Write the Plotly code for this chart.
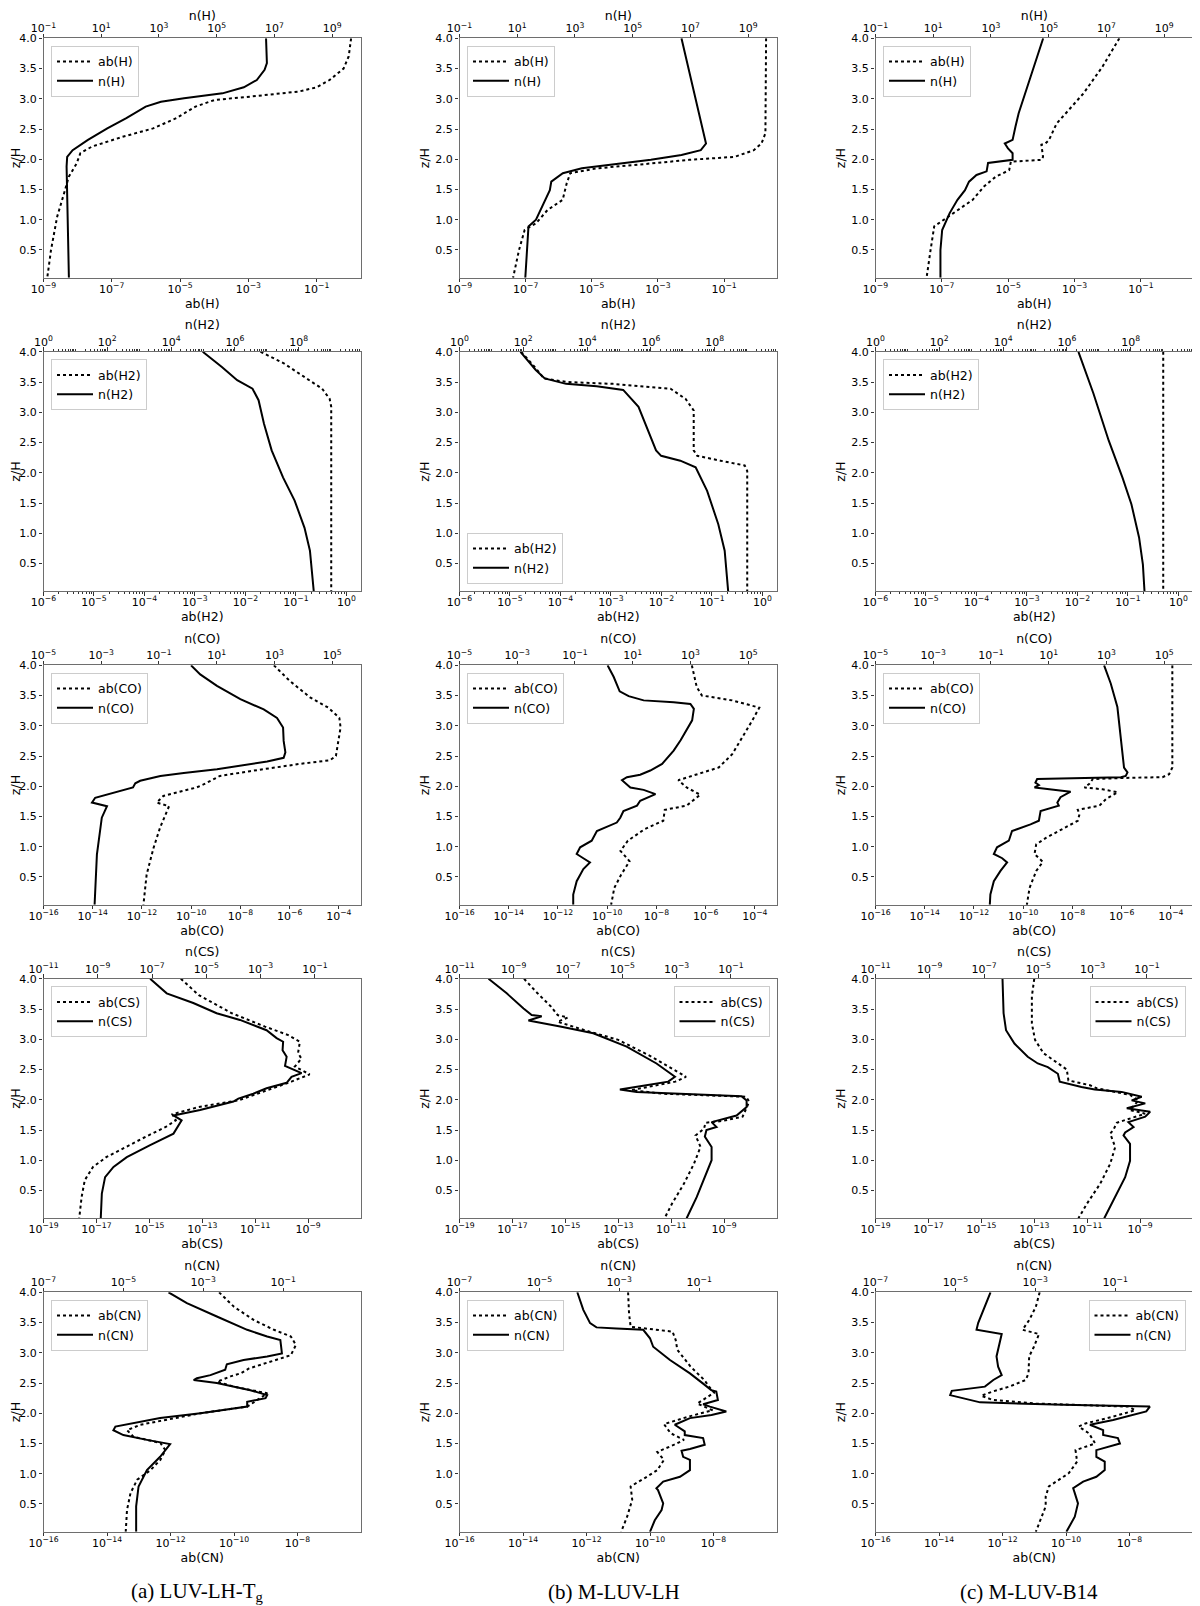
import plotly.graph_objects as go

# ---- H ----
H_TG_AB_Z = [4.0, 3.70, 3.50, 3.31, 3.19, 3.12, 3.04, 2.98, 2.87, 2.68, 2.51, 2.37, 2.21, 2.10, 1.93, 1.71, 1.49, 1.05, 0.50, 0.04]
H_TG_AB = [0.01, -0.06, -0.21, -0.62, -1.0, -1.52, -2.87, -3.99, -4.55, -5.11, -5.79, -6.69, -7.58, -7.92, -8.03, -8.26, -8.37, -8.6, -8.78, -8.89]
H_TG_N_Z = [4.0, 3.59, 3.48, 3.31, 3.19, 3.09, 3.01, 2.95, 2.87, 2.68, 2.51, 2.32, 2.15, 2.04, 1.88, 1.33, 0.04]
H_TG_N = [6.71, 6.74, 6.66, 6.39, 5.94, 5.2, 3.87, 3.07, 2.54, 1.87, 1.21, 0.54, 0.01, -0.18, -0.2, -0.18, -0.12]

H_LH_AB_Z = [4.0, 2.43, 2.26, 2.15, 2.04, 1.99, 1.93, 1.85, 1.77, 1.60, 1.33, 1.16, 0.94, 0.83, 0.50, 0.04]
H_LH_AB = [0.27, 0.25, 0.13, -0.1, -0.68, -2.06, -3.22, -4.84, -5.65, -5.76, -5.88, -6.34, -6.69, -7.03, -7.2, -7.38]
H_LH_N_Z = [4.0, 2.32, 2.26, 2.15, 2.07, 1.99, 1.91, 1.85, 1.77, 1.63, 1.49, 1.33, 1.16, 1.0, 0.89, 0.50, 0.04]
H_LH_N = [6.69, 7.49, 7.54, 7.36, 6.69, 5.63, 4.3, 3.24, 2.58, 2.18, 2.13, 1.97, 1.79, 1.65, 1.39, 1.33, 1.28]

H_B14_AB_Z = [4.0, 3.53, 3.09, 2.81, 2.59, 2.32, 2.26, 2.24, 2.04, 1.99, 1.96, 1.82, 1.71, 1.55, 1.33, 1.11, 0.89, 0.50, 0.04]
H_B14_AB = [-1.65, -2.16, -2.73, -3.19, -3.54, -3.77, -3.88, -4.0, -3.95, -4.0, -4.92, -4.97, -5.38, -5.73, -6.07, -6.65, -7.23, -7.34, -7.46]
H_B14_N_Z = [4.0, 3.53, 3.09, 2.76, 2.54, 2.43, 2.32, 2.26, 2.18, 2.10, 1.99, 1.94, 1.80, 1.74, 1.63, 1.49, 1.33, 1.11, 0.83, 0.50, 0.04]
H_B14_N = [4.81, 4.49, 4.17, 3.96, 3.85, 3.8, 3.75, 3.48, 3.59, 3.75, 3.75, 2.9, 2.85, 2.5, 2.24, 2.1, 1.84, 1.57, 1.31, 1.25, 1.25]

# ---- H2 ----
H2_TG_AB_Z = [4.0, 3.81, 3.56, 3.39, 3.22, 3.09, 0.04]
H2_TG_AB = [-1.70, -1.24, -0.79, -0.48, -0.33, -0.30, -0.30]
H2_TG_N_Z = [4.0, 3.75, 3.53, 3.39, 3.20, 2.81, 2.37, 1.92, 1.54, 1.09, 0.71, 0.04]
H2_TG_N = [4.99, 5.59, 6.07, 6.55, 6.74, 6.91, 7.15, 7.51, 7.87, 8.18, 8.35, 8.47]

H2_LH_AB_Z = [4.0, 3.72, 3.56, 3.50, 3.47, 3.39, 3.22, 3.03, 2.37, 2.28, 2.20, 2.12, 2.03, 0.04]
H2_LH_AB = [-4.78, -4.48, -4.33, -3.87, -2.96, -1.82, -1.52, -1.36, -1.36, -1.29, -0.83, -0.35, -0.30, -0.30]
H2_LH_N_Z = [4.0, 3.70, 3.56, 3.47, 3.43, 3.37, 3.09, 2.70, 2.37, 2.28, 2.20, 2.09, 1.70, 1.15, 0.71, 0.04]
H2_LH_N = [1.91, 2.39, 2.67, 3.34, 4.30, 5.13, 5.61, 5.92, 6.16, 6.32, 6.92, 7.40, 7.76, 8.11, 8.31, 8.42]

H2_B14_AB_Z = [4.0, 0.04]
H2_B14_AB = [-0.30, -0.30]
H2_B14_N_Z = [4.0, 3.31, 2.53, 1.92, 1.48, 0.93, 0.48, 0.04]
H2_B14_N = [6.36, 6.83, 7.31, 7.74, 8.02, 8.26, 8.38, 8.43]

# ---- CO ----
CO_TG_AB_Z = [4.0, 3.74, 3.47, 3.30, 3.13, 2.97, 2.75, 2.50, 2.43, 2.37, 2.25, 2.17, 2.03, 1.98, 1.84, 1.73, 1.67, 1.32, 0.98, 0.54, 0.04]
CO_TG_AB = [-6.64, -5.99, -5.17, -4.43, -3.98, -3.93, -4.02, -4.12, -4.36, -5.58, -7.61, -8.83, -9.50, -9.78, -11.13, -11.40, -10.90, -11.26, -11.53, -11.81, -11.94]
CO_TG_N_Z = [4.0, 3.85, 3.66, 3.44, 3.27, 3.13, 2.97, 2.75, 2.56, 2.47, 2.41, 2.28, 2.22, 2.17, 2.09, 2.05, 1.98, 1.87, 1.81, 1.73, 1.67, 1.48, 0.87, 0.04]
CO_TG_N = [0.11, 0.43, 1.01, 1.82, 2.63, 3.09, 3.30, 3.32, 3.38, 3.32, 2.75, 1.01, -0.14, -0.95, -1.65, -1.82, -1.90, -2.80, -3.21, -3.32, -2.80, -2.98, -3.15, -3.23]

CO_LH_AB_Z = [4.0, 3.64, 3.50, 3.42, 3.30, 3.09, 2.81, 2.53, 2.31, 2.20, 2.10, 1.98, 1.86, 1.68, 1.61, 1.43, 1.29, 1.10, 0.93, 0.76, 0.54, 0.32, 0.04]
CO_LH_AB = [-6.56, -6.36, -6.15, -4.92, -3.82, -4.10, -4.51, -4.92, -5.47, -6.29, -7.11, -6.77, -6.22, -6.77, -7.66, -7.72, -8.48, -9.16, -9.46, -9.09, -9.43, -9.71, -9.84]
CO_LH_N_Z = [4.0, 3.81, 3.57, 3.49, 3.42, 3.39, 3.36, 3.28, 3.09, 2.76, 2.59, 2.42, 2.37, 2.26, 2.19, 2.15, 2.10, 1.98, 1.94, 1.87, 1.76, 1.68, 1.59, 1.48, 1.40, 1.26, 1.10, 0.99, 0.88, 0.81, 0.74, 0.63, 0.43, 0.21, 0.04]
CO_LH_N = [0.13, 0.34, 0.55, 0.86, 1.38, 2.42, 3.00, 3.12, 3.06, 2.66, 2.42, 2.13, 2.02, 1.61, 1.26, 0.80, 0.63, 0.92, 1.38, 1.79, 1.26, 1.15, 0.68, 0.57, 0.45, -0.24, -0.42, -0.82, -0.94, -0.71, -0.48, -0.71, -0.94, -1.06, -1.06]

CO_B14_AB_Z = [4.0, 2.31, 2.20, 2.15, 2.14, 2.12, 2.04, 1.98, 1.95, 1.90, 1.79, 1.68, 1.61, 1.54, 1.43, 1.29, 1.15, 1.04, 0.88, 0.75, 0.60, 0.32, 0.04]
CO_B14_AB = [-3.94, -3.94, -4.07, -4.34, -5.69, -7.17, -7.31, -7.51, -6.77, -6.16, -6.63, -6.90, -7.78, -7.71, -7.78, -8.39, -9.06, -9.47, -9.54, -9.20, -9.47, -9.74, -9.85]
CO_B14_N_Z = [4.0, 3.70, 3.31, 2.31, 2.23, 2.17, 2.15, 2.14, 2.12, 2.06, 2.02, 1.98, 1.95, 1.91, 1.82, 1.73, 1.68, 1.59, 1.43, 1.37, 1.26, 1.10, 0.99, 0.88, 0.81, 0.74, 0.60, 0.43, 0.21, 0.04]
CO_B14_N = [2.92, 3.15, 3.38, 3.61, 3.73, 3.67, 3.50, 2.69, 0.60, 0.54, 0.66, 0.51, 1.06, 1.76, 1.41, 1.30, 1.35, 0.72, 0.66, 0.37, -0.27, -0.38, -0.79, -0.90, -0.61, -0.44, -0.67, -0.90, -1.02, -1.04]

# ---- CS ----
CS_TG_AB_Z = [4.0, 3.73, 3.43, 3.21, 3.07, 2.96, 2.77, 2.68, 2.55, 2.42, 2.30, 2.16, 1.99, 1.88, 1.76, 1.66, 1.55, 1.39, 1.22, 1.05, 0.89, 0.67, 0.39, 0.04]
CS_TG_AB = [-13.81, -13.13, -11.88, -10.63, -9.75, -9.31, -9.38, -9.25, -9.5, -8.94, -9.63, -10.5, -11.63, -13.13, -14.13, -14.0, -14.38, -15.13, -15.88, -16.63, -17.13, -17.44, -17.56, -17.65]
CS_TG_N_Z = [4.0, 3.76, 3.60, 3.43, 3.32, 3.15, 3.02, 2.96, 2.82, 2.71, 2.56, 2.44, 2.38, 2.28, 2.19, 2.10, 2.02, 1.97, 1.83, 1.74, 1.66, 1.44, 1.25, 1.05, 0.89, 0.72, 0.45, 0.04]
CS_TG_N = [-7.07, -6.46, -5.48, -4.62, -3.76, -2.78, -2.41, -2.17, -2.19, -2.04, -2.10, -1.49, -1.86, -2.04, -2.78, -3.27, -3.82, -4.0, -5.23, -6.21, -5.91, -6.21, -7.07, -7.93, -8.42, -8.73, -8.85, -8.89]

CS_LH_AB_Z = [4.0, 3.76, 3.54, 3.40, 3.36, 3.29, 3.15, 2.99, 2.71, 2.49, 2.38, 2.30, 2.21, 2.16, 2.10, 2.05, 1.97, 1.72, 1.65, 1.62, 1.52, 1.41, 1.22, 0.94, 0.61, 0.28, 0.04]
CS_LH_AB = [-16.56, -16.05, -15.54, -15.29, -14.91, -15.29, -14.27, -13.0, -11.73, -10.84, -10.44, -10.84, -11.99, -12.49, -11.35, -8.17, -8.05, -8.30, -9.06, -9.70, -9.76, -10.08, -9.89, -10.14, -10.52, -10.97, -11.25]
CS_LH_N_Z = [4.0, 3.76, 3.51, 3.40, 3.38, 3.31, 3.21, 3.10, 2.88, 2.60, 2.38, 2.30, 2.23, 2.17, 2.13, 2.09, 2.06, 1.99, 1.88, 1.74, 1.66, 1.63, 1.55, 1.50, 1.39, 1.22, 1.00, 0.72, 0.39, 0.04]
CS_LH_N = [-9.93, -9.26, -8.64, -8.34, -7.97, -8.46, -7.29, -6.07, -4.84, -3.74, -3.06, -3.31, -4.23, -5.09, -4.47, -2.39, -0.61, -0.42, -0.42, -0.79, -1.40, -1.71, -1.53, -1.90, -1.96, -1.71, -1.71, -1.96, -2.26, -2.63]

CS_B14_AB_Z = [4.0, 3.71, 3.26, 2.99, 2.77, 2.61, 2.50, 2.32, 2.24, 2.19, 2.08, 1.99, 1.83, 1.77, 1.69, 1.62, 1.50, 1.44, 1.22, 0.94, 0.61, 0.28, 0.04]
CS_B14_AB = [-13.0, -13.09, -13.09, -12.97, -12.65, -12.15, -11.77, -11.71, -10.89, -10.64, -9.38, -9.06, -9.38, -8.81, -9.38, -9.88, -10.01, -10.13, -9.94, -10.13, -10.51, -11.01, -11.33]
CS_B14_N_Z = [4.0, 3.43, 3.15, 2.93, 2.71, 2.60, 2.54, 2.43, 2.30, 2.21, 2.17, 2.13, 2.05, 1.99, 1.94, 1.86, 1.80, 1.72, 1.63, 1.55, 1.46, 1.41, 1.27, 0.99, 0.72, 0.39, 0.04]
CS_B14_N = [-6.32, -6.28, -6.19, -5.88, -5.39, -5.02, -4.65, -4.28, -4.21, -3.41, -2.92, -1.93, -1.19, -1.56, -1.06, -1.74, -0.88, -1.06, -1.68, -1.49, -1.80, -1.86, -1.62, -1.62, -1.80, -2.17, -2.57]

# ---- CN ----
CN_TG_AB_Z = [4.0, 3.76, 3.54, 3.38, 3.27, 3.13, 2.96, 2.83, 2.74, 2.66, 2.61, 2.52, 2.44, 2.33, 2.11, 2.0, 1.89, 1.81, 1.72, 1.61, 1.51, 1.39, 1.23, 1.06, 0.90, 0.68, 0.40, 0.04]
CN_TG_AB = [-10.47, -10.0, -9.37, -8.74, -8.21, -8.05, -8.21, -8.95, -9.53, -9.79, -10.11, -10.53, -10.0, -8.95, -9.58, -11.05, -12.11, -12.95, -13.37, -13.16, -12.32, -12.16, -12.32, -12.63, -13.05, -13.26, -13.37, -13.41]
CN_TG_N_Z = [4.0, 3.82, 3.60, 3.38, 3.27, 3.21, 3.10, 2.99, 2.94, 2.88, 2.81, 2.72, 2.63, 2.58, 2.55, 2.50, 2.38, 2.30, 2.25, 2.19, 2.11, 2.0, 1.92, 1.84, 1.78, 1.72, 1.64, 1.56, 1.49, 1.28, 1.06, 0.79, 0.46, 0.04]
CN_TG_N = [-3.87, -3.41, -2.66, -1.90, -1.40, -1.07, -1.05, -1.03, -1.40, -1.99, -2.41, -2.45, -2.82, -3.16, -3.24, -2.66, -1.82, -1.40, -1.44, -1.90, -1.90, -3.07, -4.08, -4.74, -5.20, -5.25, -5.0, -4.41, -3.83, -4.08, -4.41, -4.62, -4.68, -4.68]

CN_LH_AB_Z = [4.0, 3.65, 3.43, 3.39, 3.35, 3.21, 3.05, 2.77, 2.55, 2.44, 2.34, 2.16, 2.05, 1.94, 1.82, 1.67, 1.56, 1.48, 1.36, 1.23, 1.06, 0.92, 0.79, 0.57, 0.29, 0.04]
CN_LH_AB = [-10.69, -10.66, -10.61, -9.98, -9.29, -9.19, -9.14, -8.72, -8.29, -8.14, -7.98, -8.51, -8.03, -8.82, -9.56, -9.35, -8.93, -9.24, -9.77, -9.56, -9.77, -10.19, -10.61, -10.56, -10.72, -10.91]
CN_LH_N_Z = [4.0, 3.71, 3.49, 3.42, 3.40, 3.38, 3.24, 3.10, 2.88, 2.66, 2.49, 2.38, 2.36, 2.22, 2.15, 2.11, 2.03, 1.97, 1.92, 1.81, 1.70, 1.64, 1.59, 1.48, 1.41, 1.38, 1.28, 1.23, 1.06, 0.95, 0.87, 0.76, 0.73, 0.51, 0.40, 0.23, 0.04]
CN_LH_N = [-4.05, -3.90, -3.73, -3.57, -3.07, -2.40, -2.23, -2.15, -1.73, -1.23, -0.90, -0.69, -0.57, -0.53, -0.90, -0.73, -0.32, -0.69, -1.23, -1.61, -1.36, -1.36, -0.90, -0.86, -1.23, -1.44, -1.40, -1.23, -1.23, -1.48, -1.90, -2.07, -2.03, -1.90, -1.94, -2.11, -2.23]

CN_B14_AB_Z = [4.0, 3.76, 3.54, 3.38, 3.31, 3.10, 2.94, 2.66, 2.55, 2.44, 2.36, 2.29, 2.22, 2.16, 2.11, 2.05, 1.94, 1.83, 1.78, 1.67, 1.50, 1.39, 1.20, 1.01, 0.79, 0.62, 0.46, 0.04]
CN_B14_AB = [-10.83, -10.95, -11.16, -11.37, -10.85, -11.01, -11.16, -11.18, -11.27, -11.79, -12.31, -12.67, -12.31, -10.95, -8.03, -7.82, -8.55, -9.39, -9.60, -9.28, -9.08, -9.70, -9.65, -9.91, -10.54, -10.64, -10.64, -10.95]
CN_B14_N_Z = [4.0, 3.76, 3.49, 3.38, 3.31, 2.94, 2.77, 2.63, 2.55, 2.44, 2.37, 2.30, 2.18, 2.14, 2.11, 2.03, 1.89, 1.81, 1.72, 1.64, 1.59, 1.50, 1.39, 1.28, 1.20, 1.06, 0.95, 0.87, 0.76, 0.68, 0.51, 0.29, 0.04]
CN_B14_N = [-4.12, -4.26, -4.43, -4.47, -3.84, -3.97, -3.93, -3.84, -4.05, -4.26, -5.09, -5.13, -4.38, -2.30, -0.13, -0.22, -1.05, -1.63, -1.30, -1.30, -0.93, -0.88, -1.47, -1.47, -1.26, -1.26, -1.47, -1.80, -2.05, -2.01, -1.93, -2.01, -2.22]

SPECIES = ["H", "H2", "CO", "CS", "CN"]
MODELS = ["(a) LUV-LH-T<sub>g</sub>", "(b) M-LUV-LH", "(c) M-LUV-B14"]

PANELS = {
    "H": [(H_TG_AB_Z, H_TG_AB, H_TG_N_Z, H_TG_N), (H_LH_AB_Z, H_LH_AB, H_LH_N_Z, H_LH_N), (H_B14_AB_Z, H_B14_AB, H_B14_N_Z, H_B14_N)],
    "H2": [(H2_TG_AB_Z, H2_TG_AB, H2_TG_N_Z, H2_TG_N), (H2_LH_AB_Z, H2_LH_AB, H2_LH_N_Z, H2_LH_N), (H2_B14_AB_Z, H2_B14_AB, H2_B14_N_Z, H2_B14_N)],
    "CO": [(CO_TG_AB_Z, CO_TG_AB, CO_TG_N_Z, CO_TG_N), (CO_LH_AB_Z, CO_LH_AB, CO_LH_N_Z, CO_LH_N), (CO_B14_AB_Z, CO_B14_AB, CO_B14_N_Z, CO_B14_N)],
    "CS": [(CS_TG_AB_Z, CS_TG_AB, CS_TG_N_Z, CS_TG_N), (CS_LH_AB_Z, CS_LH_AB, CS_LH_N_Z, CS_LH_N), (CS_B14_AB_Z, CS_B14_AB, CS_B14_N_Z, CS_B14_N)],
    "CN": [(CN_TG_AB_Z, CN_TG_AB, CN_TG_N_Z, CN_TG_N), (CN_LH_AB_Z, CN_LH_AB, CN_LH_N_Z, CN_LH_N), (CN_B14_AB_Z, CN_B14_AB, CN_B14_N_Z, CN_B14_N)],
}

# log10 axis limits (bottom ab axis per column, top n axis per row)
AB_RANGE = {
    "H": [[-9, 0.3], [-9, 0.6], [-9, 0.57]],
    "H2": [[-6, 0.29]] * 3,
    "CO": [[-16, -3.1]] * 3,
    "CS": [[-19, -7.0]] * 3,
    "CN": [[-16, -6.0]] * 3,
}
N_RANGE = {"H": [-1, 10.0], "H2": [0, 9.95], "CO": [-5, 6.0], "CS": [-11, 0.7], "CN": [-7, 0.95]}
AB_TICKS = {
    "H": [-9, -7, -5, -3, -1],
    "H2": [-6, -5, -4, -3, -2, -1, 0],
    "CO": [-16, -14, -12, -10, -8, -6, -4],
    "CS": [-19, -17, -15, -13, -11, -9],
    "CN": [-16, -14, -12, -10, -8],
}
N_TICKS = {
    "H": [-1, 1, 3, 5, 7, 9],
    "H2": [0, 2, 4, 6, 8],
    "CO": [-5, -3, -1, 1, 3, 5],
    "CS": [-11, -9, -7, -5, -3, -1],
    "CN": [-7, -5, -3, -1],
}
LEGEND_CORNER = {
    "H": ["tl", "tl", "tl"],
    "H2": ["tl", "bl", "tl"],
    "CO": ["tl", "tl", "tl"],
    "CS": ["tl", "tr", "tr"],
    "CN": ["tl", "tl", "tr"],
}

# the page body adds an 8px margin, so the figure is drawn 8px smaller and shifted
PAGE = 8
W, H = 1200 - PAGE, 1606 - PAGE
COL_LEFT = [43.5, 459.5, 875.5]
PANEL_W = 317.5
ROW_TOP = 38.3
ROW_STEP = 313.5
PANEL_H = 239.5
CAPTION_X = [197.5, 613.5, 1028.5]

FONT = "DejaVu Sans"
TICK_FONT = dict(family=FONT, size=11, color="black")
TITLE_FONT = dict(family=FONT, size=12.5, color="black")
FRAME = "#6e6e6e"


def px_x(v):
    return (v - PAGE) / W


def px_y(v):
    return 1 - (v - PAGE) / H


def sup(e):
    s = str(e).replace("-", "\u2212")
    return f"10<sup>{s}</sup>"


def log_axis(lo_hi, ticks, title, minor):
    ax = dict(
        type="log",
        range=lo_hi,
        automargin=False,
        tickmode="array",
        tickvals=[10.0 ** t for t in ticks],
        ticktext=[sup(t) for t in ticks],
        ticks="outside",
        ticklen=3.5,
        tickwidth=1,
        tickcolor="#333333",
        tickfont=TICK_FONT,
        ticklabelstandoff=-3,
        showgrid=False,
        zeroline=False,
        title=dict(text=title, font=TITLE_FONT, standoff=1),
    )
    if minor:
        ax["minor"] = dict(dtick="D1", ticks="outside", ticklen=2, tickcolor="#333333", showgrid=False)
    return ax


fig = go.Figure()
layout = {}

for r, sp in enumerate(SPECIES):
    for c in range(3):
        k = r * 3 + c
        ab_z, ab, n_z, n = PANELS[sp][c]
        xb, xt, yi = 2 * k + 1, 2 * k + 2, k + 1
        xb_name = "x" if xb == 1 else f"x{xb}"
        y_name = "y" if yi == 1 else f"y{yi}"
        leg = "legend" if k == 0 else f"legend{k + 1}"

        fig.add_trace(go.Scatter(
            x=[10.0 ** v for v in ab], y=ab_z, mode="lines", name=f"ab({sp})",
            line=dict(color="black", width=2, dash="dot"),
            xaxis=xb_name, yaxis=y_name, legend=leg,
        ))
        fig.add_trace(go.Scatter(
            x=[10.0 ** v for v in n], y=n_z, mode="lines", name=f"n({sp})",
            line=dict(color="black", width=2),
            xaxis=f"x{xt}", yaxis=y_name, legend=leg,
        ))

        left = COL_LEFT[c]
        top = ROW_TOP + ROW_STEP * r
        dom_x = [px_x(left), px_x(left + PANEL_W)]
        dom_y = [px_y(top + PANEL_H), px_y(top)]

        bottom = log_axis(AB_RANGE[sp][c], AB_TICKS[sp], f"ab({sp})", sp == "H2")
        bottom.update(domain=dom_x, anchor=y_name, side="bottom",
                      showline=True, linecolor=FRAME, linewidth=1.2, mirror=True)
        topax = log_axis(N_RANGE[sp], N_TICKS[sp], f"n({sp})", sp == "H2")
        topax.update(overlaying=xb_name, anchor=y_name, side="top", showline=False)

        layout["xaxis" if xb == 1 else f"xaxis{xb}"] = bottom
        layout[f"xaxis{xt}"] = topax
        layout["yaxis" if yi == 1 else f"yaxis{yi}"] = dict(
            domain=dom_y, anchor=xb_name, range=[0.04, 4.0], automargin=False,
            tick0=0, dtick=0.5, tickformat=".1f",
            ticks="outside", ticklen=3.5, tickcolor="#333333", tickfont=TICK_FONT,
            showline=True, linecolor=FRAME, linewidth=1.2, mirror=True,
            showgrid=False, zeroline=False,
            title=dict(text="z/H", font=TITLE_FONT, standoff=2),
        )

        corner = LEGEND_CORNER[sp][c]
        pad = 7.5
        if corner == "tr":
            lx, xanc = px_x(left + PANEL_W - pad), "right"
        else:
            lx, xanc = px_x(left + pad), "left"
        if corner == "bl":
            ly, yanc = px_y(top + PANEL_H - pad), "bottom"
        else:
            ly, yanc = px_y(top + pad), "top"
        layout[leg] = dict(
            x=lx, y=ly, xanchor=xanc, yanchor=yanc, xref="paper", yref="paper",
            bgcolor="rgba(255,255,255,0.85)", bordercolor="#cccccc", borderwidth=1,
            font=dict(family=FONT, size=12.5, color="black"),
            itemwidth=36, tracegroupgap=0,
        )

annotations = []
for c, label in enumerate(MODELS):
    annotations.append(dict(
        text=label, x=px_x(CAPTION_X[c]), y=px_y(1592),
        xref="paper", yref="paper", showarrow=False, xanchor="center", yanchor="middle",
        font=dict(family="Liberation Serif", size=21, color="black"),
    ))

fig.update_layout(
    width=W, height=H,
    margin=dict(l=0, r=0, t=0, b=0, autoexpand=False),
    paper_bgcolor="white", plot_bgcolor="white",
    annotations=annotations,
    **layout,
)

fig.write_html("out.html")
